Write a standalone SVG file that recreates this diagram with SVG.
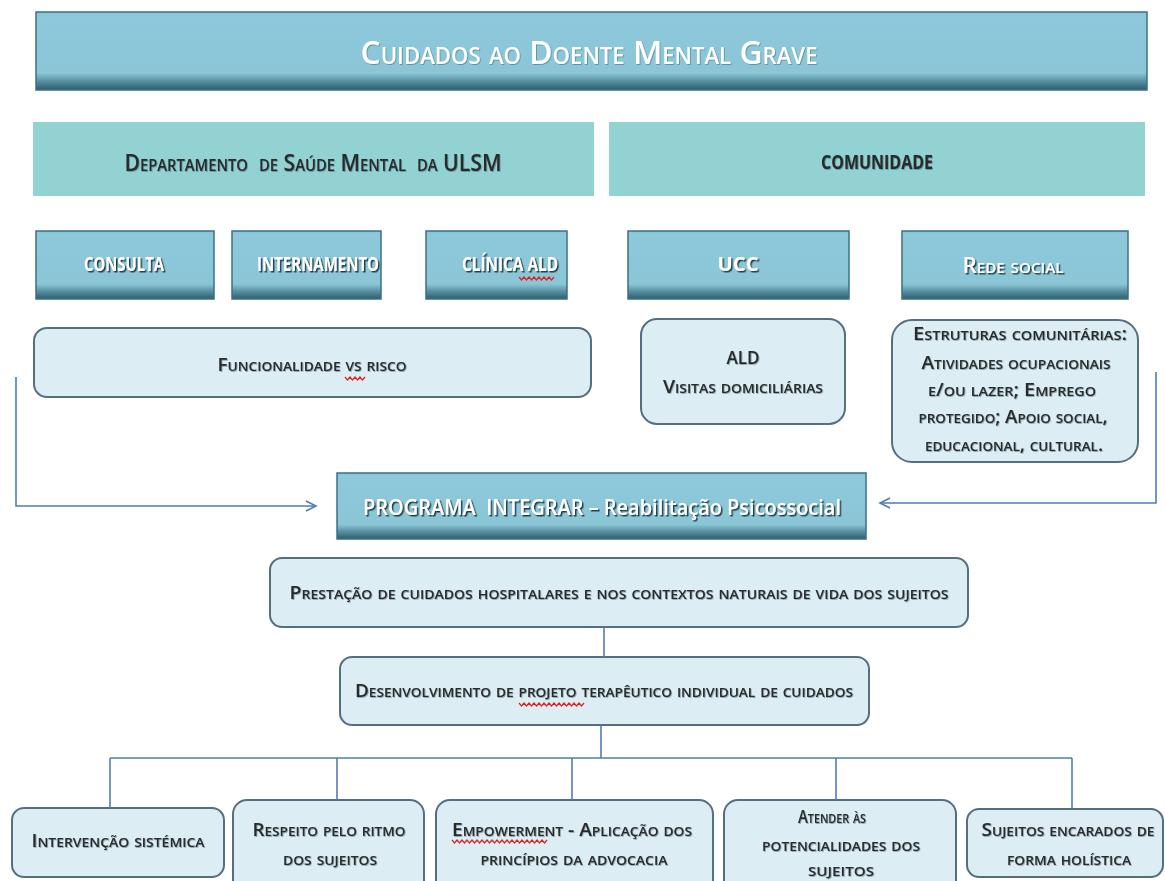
<svg xmlns="http://www.w3.org/2000/svg" width="1165" height="881" viewBox="0 0 1165 881">
<defs>
<linearGradient id="gBar" x1="0" y1="0" x2="0" y2="1">
<stop offset="0" stop-color="#86C3D6"/>
<stop offset="0.05" stop-color="#8DC9DB"/>
<stop offset="0.78" stop-color="#8BC6D7"/>
<stop offset="0.88" stop-color="#5A93A4"/>
<stop offset="1" stop-color="#2E5D6C"/>
</linearGradient>
<filter id="sh" x="-10%" y="-30%" width="120%" height="160%">
<feDropShadow dx="1.5" dy="1.5" stdDeviation="0.7" flood-color="#1B3640" flood-opacity="0.95"/>
</filter>
<filter id="shs" x="-10%" y="-30%" width="120%" height="160%">
<feDropShadow dx="0.8" dy="0.8" stdDeviation="0.6" flood-color="#1B3640" flood-opacity="0.45"/>
</filter>
<marker id="arr" markerWidth="14" markerHeight="14" refX="11" refY="6" orient="auto" markerUnits="userSpaceOnUse">
<path d="M1,1 L11,6 L1,11" fill="none" stroke="#4F7DB3" stroke-width="1.6"/>
</marker>
<style>
.bar{fill:url(#gBar);stroke:#3A7283;stroke-width:1.5}
.band{fill:#93D2D3}
.soft{fill:#DCEEF4;stroke:#566F80;stroke-width:2}
.sc{font-family:"Open Sans","Liberation Sans",sans-serif;font-variant:small-caps;font-weight:600;text-anchor:middle;dominant-baseline:central}
.up{font-family:"Open Sans","Liberation Sans",sans-serif;font-weight:700;text-anchor:middle;dominant-baseline:central}
.dark{fill:#2A2A2A}
.white{fill:#FFFFFF}
.pl{font-family:"Open Sans","Liberation Sans",sans-serif;font-weight:600;text-anchor:middle;dominant-baseline:central}
.con{fill:none;stroke:#4F7DB3;stroke-width:1.6}
.sq{fill:none;stroke:#E02020;stroke-width:1.2}
</style>
</defs>
<rect width="1165" height="881" fill="#FFFFFF"/>

<g id="title">
<rect class="bar" x="36" y="12" width="1111" height="78"/>
<text class="sc white" x="589" y="51" font-size="33" textLength="457" lengthAdjust="spacingAndGlyphs" filter="url(#shs)">Cuidados ao Doente Mental Grave</text>
</g>

<g id="departamento">
<rect class="band" x="33" y="122" width="561" height="74"/>
<text class="sc dark" x="313" y="162" font-size="23" font-weight="700" textLength="377" lengthAdjust="spacingAndGlyphs" filter="url(#shs)">Departamento&#160; de Saúde Mental&#160; da ULSM</text>
</g>
<g id="comunidade">
<rect class="band" x="609" y="122" width="536" height="74"/>
<text class="up dark" x="877" y="162" font-size="19" textLength="112" lengthAdjust="spacingAndGlyphs" filter="url(#shs)">COMUNIDADE</text>
</g>

<g id="consulta">
<rect class="bar" x="36" y="231" width="178" height="68"/>
<text class="up white" x="124" y="264" font-size="19" textLength="80" lengthAdjust="spacingAndGlyphs" filter="url(#sh)">CONSULTA</text>
</g>
<g id="internamento">
<rect class="bar" x="232" y="231" width="149" height="68"/>
<text class="up white" x="318" y="264" font-size="19" textLength="122" lengthAdjust="spacingAndGlyphs" filter="url(#sh)">INTERNAMENTO</text>
</g>
<g id="clinica">
<rect class="bar" x="426" y="231" width="141" height="68"/>
<text class="up white" x="510" y="264" font-size="19" textLength="96" lengthAdjust="spacingAndGlyphs" filter="url(#sh)">CLÍNICA ALD</text>
<path class="sq" d="M519,277 l2.5,3 l2.5,-3 l2.5,3 l2.5,-3 l2.5,3 l2.5,-3 l2.5,3 l2.5,-3 l2.5,3 l2.5,-3 l2.5,3 l2.5,-3 l2.5,3 l2.5,-3"/>
</g>
<g id="ucc">
<rect class="bar" x="628" y="231" width="221" height="68"/>
<text class="up white" x="738" y="264" font-size="19" textLength="41" lengthAdjust="spacingAndGlyphs" filter="url(#sh)">UCC</text>
</g>
<g id="redesocial">
<rect class="bar" x="902" y="231" width="226" height="68"/>
<text class="sc white" x="1013" y="264" font-size="22" textLength="101" lengthAdjust="spacingAndGlyphs" filter="url(#sh)">Rede social</text>
</g>

<g id="funcionalidade">
<rect class="soft" x="34" y="328" width="557" height="69" rx="13"/>
<text class="sc dark" x="312" y="364" font-size="18" textLength="189" lengthAdjust="spacingAndGlyphs" filter="url(#shs)">Funcionalidade vs risco</text>
<path class="sq" d="M345,377 l2.5,3 l2.5,-3 l2.5,3 l2.5,-3 l2.5,3 l2.5,-3 l2.5,3 l2.5,-3"/>
</g>
<g id="ald">
<rect class="soft" x="641" y="319" width="204" height="105" rx="16"/>
<text class="sc dark" x="743" y="357" font-size="18" textLength="33" lengthAdjust="spacingAndGlyphs" filter="url(#shs)">ALD</text>
<text class="sc dark" x="743" y="386" font-size="18" textLength="160" lengthAdjust="spacingAndGlyphs" filter="url(#shs)">Visitas domiciliárias</text>
</g>
<g id="estruturas">
<rect class="soft" x="892" y="320" width="246" height="142" rx="20"/>
<text class="sc dark" x="1020" y="333" font-size="18" textLength="214" lengthAdjust="spacingAndGlyphs" filter="url(#shs)">Estruturas comunitárias:</text>
<text class="sc dark" x="1016" y="362" font-size="18" textLength="189" lengthAdjust="spacingAndGlyphs" filter="url(#shs)">Atividades ocupacionais</text>
<text class="sc dark" x="1012" y="389" font-size="18" textLength="168" lengthAdjust="spacingAndGlyphs" filter="url(#shs)">e/ou lazer; Emprego</text>
<text class="sc dark" x="1013" y="416" font-size="18" textLength="189" lengthAdjust="spacingAndGlyphs" filter="url(#shs)">protegido; Apoio social,</text>
<text class="sc dark" x="1014" y="444" font-size="18" textLength="178" lengthAdjust="spacingAndGlyphs" filter="url(#shs)">educacional, cultural.</text>
</g>

<g id="programa">
<rect class="bar" x="337" y="473" width="529" height="66"/>
<text class="pl white" x="602" y="506" font-size="22" textLength="478" lengthAdjust="spacingAndGlyphs" filter="url(#sh)">PROGRAMA&#160; INTEGRAR – Reabilitação Psicossocial</text>
</g>

<g id="prestacao">
<rect class="soft" x="270" y="558" width="698" height="69" rx="12"/>
<text class="sc dark" x="619" y="592" font-size="18" textLength="659" lengthAdjust="spacingAndGlyphs" filter="url(#shs)">Prestação de cuidados hospitalares e nos contextos naturais de vida dos sujeitos</text>
</g>
<g id="desenvolvimento">
<rect class="soft" x="340" y="657" width="529" height="68" rx="12"/>
<text class="sc dark" x="604" y="690" font-size="18" textLength="498" lengthAdjust="spacingAndGlyphs" filter="url(#shs)">Desenvolvimento de projeto terapêutico individual de cuidados</text>
<path class="sq" d="M519,703 l2.5,3 l2.5,-3 l2.5,3 l2.5,-3 l2.5,3 l2.5,-3 l2.5,3 l2.5,-3 l2.5,3 l2.5,-3 l2.5,3 l2.5,-3 l2.5,3 l2.5,-3 l2.5,3 l2.5,-3 l2.5,3 l2.5,-3 l2.5,3 l2.5,-3 l2.5,3 l2.5,-3 l2.5,3 l2.5,-3 l2.5,3 l2.5,-3"/>
</g>

<g id="intervencao">
<rect class="soft" x="12" y="808" width="212" height="69" rx="12"/>
<text class="sc dark" x="118" y="840" font-size="18" textLength="173" lengthAdjust="spacingAndGlyphs" filter="url(#shs)">Intervenção sistémica</text>
</g>
<g id="respeito">
<rect class="soft" x="233" y="800" width="191" height="95" rx="14"/>
<text class="sc dark" x="329" y="829" font-size="18" textLength="153" lengthAdjust="spacingAndGlyphs" filter="url(#shs)">Respeito pelo ritmo</text>
<text class="sc dark" x="330" y="858" font-size="18" textLength="94" lengthAdjust="spacingAndGlyphs" filter="url(#shs)">dos sujeitos</text>
</g>
<g id="empowerment">
<rect class="soft" x="436" y="800" width="277" height="95" rx="14"/>
<text class="sc dark" x="572" y="829" font-size="18" textLength="240" lengthAdjust="spacingAndGlyphs" filter="url(#shs)">Empowerment - Aplicação dos</text>
<text class="sc dark" x="574" y="858" font-size="18" textLength="187" lengthAdjust="spacingAndGlyphs" filter="url(#shs)">princípios da advocacia</text>
<path class="sq" d="M452,840 l2.5,3 l2.5,-3 l2.5,3 l2.5,-3 l2.5,3 l2.5,-3 l2.5,3 l2.5,-3 l2.5,3 l2.5,-3 l2.5,3 l2.5,-3 l2.5,3 l2.5,-3 l2.5,3 l2.5,-3 l2.5,3 l2.5,-3 l2.5,3 l2.5,-3 l2.5,3 l2.5,-3 l2.5,3 l2.5,-3 l2.5,3 l2.5,-3 l2.5,3 l2.5,-3 l2.5,3 l2.5,-3 l2.5,3 l2.5,-3 l2.5,3 l2.5,-3 l2.5,3 l2.5,-3 l2.5,3 l2.5,-3"/>
</g>
<g id="atender">
<rect class="soft" x="724" y="800" width="232" height="95" rx="14"/>
<text class="sc dark" x="832" y="816" font-size="18" textLength="68" lengthAdjust="spacingAndGlyphs" filter="url(#shs)">Atender às</text>
<text class="sc dark" x="841" y="844" font-size="18" textLength="158" lengthAdjust="spacingAndGlyphs" filter="url(#shs)">potencialidades dos</text>
<text class="sc dark" x="841" y="869" font-size="18" textLength="66" lengthAdjust="spacingAndGlyphs" filter="url(#shs)">sujeitos</text>
</g>
<g id="holistica">
<rect class="soft" x="967" y="809" width="196" height="68" rx="12"/>
<text class="sc dark" x="1068" y="829" font-size="18" textLength="173" lengthAdjust="spacingAndGlyphs" filter="url(#shs)">Sujeitos encarados de</text>
<text class="sc dark" x="1069" y="858" font-size="18" textLength="124" lengthAdjust="spacingAndGlyphs" filter="url(#shs)">forma holística</text>
</g>

<g id="connectors">
<path class="con" d="M16,377 V506 H316" marker-end="url(#arr)"/>
<path class="con" d="M1156,372 V503 H880" marker-end="url(#arr)"/>
<path class="con" d="M604,627 V657"/>
<path class="con" d="M601,725 V758"/>
<path class="con" d="M110,758 H1072"/>
<path class="con" d="M110,758 V808"/>
<path class="con" d="M337,758 V800"/>
<path class="con" d="M572,758 V800"/>
<path class="con" d="M836,758 V800"/>
<path class="con" d="M1072,758 V809"/>
</g>
</svg>
